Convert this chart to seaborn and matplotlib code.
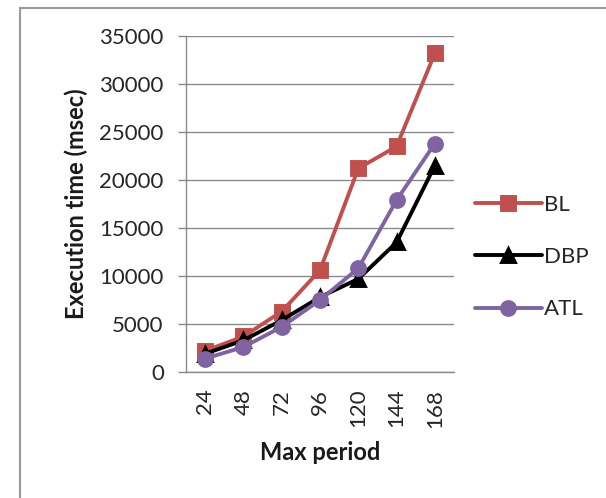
import matplotlib
matplotlib.use("Agg")
import matplotlib.pyplot as plt
import seaborn as sns
import pandas as pd
from matplotlib.patches import Rectangle

periods = ["24", "48", "72", "96", "120", "144", "168"]
bl = [2200, 3700, 6300, 10600, 21200, 23500, 33200]
dbp = [1900, 3300, 5400, 7800, 9700, 13500, 21500]
atl = [1400, 2600, 4700, 7500, 10800, 17900, 23800]
series_names = ["BL", "DBP", "ATL"]
colors = ["#C0504D", "#000000", "#8064A2"]
markers = ["s", "^", "o"]

df = pd.DataFrame({
    "period": periods * 3,
    "time": bl + dbp + atl,
    "series": [s for s in series_names for _ in periods],
})

sns.set_style("white")
plt.rcParams["font.family"] = ["Lato", "DejaVu Sans"]

fig = plt.figure(figsize=(6.06, 4.98), dpi=100)
ax = fig.add_axes([186 / 606, 1 - 372 / 498, 268 / 606, 336 / 498])

sns.pointplot(data=df, x="period", y="time", hue="series", order=periods,
              hue_order=series_names, palette=colors, markers=markers,
              linestyles="-", errorbar=None, ax=ax, markersize=10,
              linewidth=2.8)

ax.set_ylim(0, 35000)
ax.set_xlim(-0.5, 6.5)
ax.set_yticks(range(0, 35001, 5000))
ax.yaxis.grid(True, color="#8a8a8a", linewidth=1.0)
ax.set_axisbelow(True)
for side in ["top", "right"]:
    ax.spines[side].set_visible(False)
ax.spines["left"].set_color("#8a8a8a")
ax.spines["bottom"].set_color("#8a8a8a")
ax.spines["left"].set_linewidth(1.0)
ax.spines["bottom"].set_linewidth(1.0)

ax.tick_params(axis="y", which="major", left=True, length=6, width=1.0,
               color="#8a8a8a", pad=10, labelsize=16, labelcolor="#262626")
ax.tick_params(axis="x", which="major", bottom=False, length=0, pad=12,
               labelsize=16, labelrotation=90, labelcolor="#262626")

ax.set_xlabel("Max period", fontsize=17, fontweight="bold", labelpad=10,
              color="#1a1a1a")
ax.set_ylabel("Execution time (msec)", fontsize=17, fontweight="bold",
              labelpad=8, color="#1a1a1a")

handles, labels = ax.get_legend_handles_labels()
leg = ax.legend(handles, labels, loc="center left",
                bbox_to_anchor=(1.045, 0.342), frameon=False, fontsize=16,
                handlelength=3.0, handletextpad=0.1, labelspacing=1.45,
                borderaxespad=0)

fig.patches.append(Rectangle((20 / 606, -0.05), 1.0, (1 - 8 / 498) + 0.05,
                             transform=fig.transFigure, fill=False,
                             edgecolor="#9a9a9a", linewidth=1.5))

fig.savefig("out.png", dpi=100)
